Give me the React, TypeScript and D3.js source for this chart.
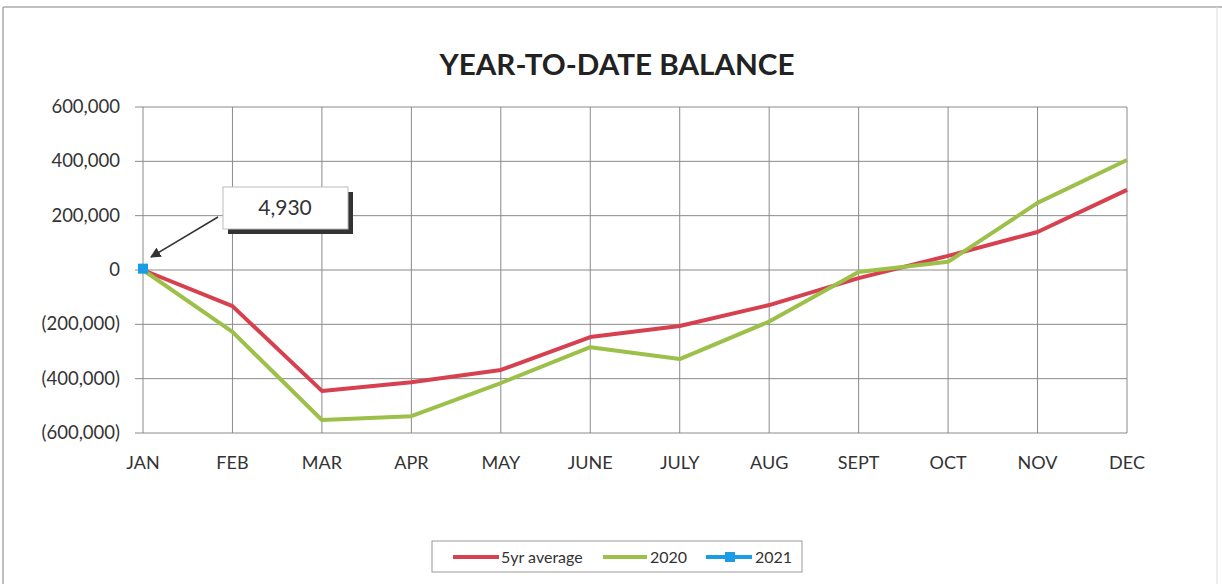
import React from "react";
import * as d3 from "d3";

const months = ["JAN","FEB","MAR","APR","MAY","JUNE","JULY","AUG","SEPT","OCT","NOV","DEC"];
const avg5yr = [0,-133000,-445000,-413000,-368000,-247000,-206000,-129000,-30000,52000,140000,295000];
const y2020 = [0,-228000,-552000,-538000,-416000,-284000,-328000,-190000,-7000,30000,247000,405000];
const y2021 = [4930];
const yTicks = [600000,400000,200000,0,-200000,-400000,-600000];

const W = 1222, H = 584;
const left = 143, right = 1127, top = 107, bottom = 433;

function fmt(v: number) {
  const s = d3.format(",")(Math.abs(v));
  return v < 0 ? `(${s})` : s;
}

export default function App() {
  const x = d3.scalePoint<string>().domain(months).range([left, right]);
  const y = d3.scaleLinear().domain([-600000, 600000]).range([bottom, top]);
  const line = d3.line<number>().x((_, i) => x(months[i])!).y(d => y(d));
  const font = "Lato, 'Open Sans', sans-serif";
  const px = x("JAN")!, py = y(y2021[0]);
  return (
    <svg width={W} height={H} style={{ position: "absolute", left: 0, top: 0, background: "#fff" }} fontFamily={font}>
      <rect x={0} y={0} width={W} height={H} fill="#fff" />
      <line x1={3} y1={7} x2={1222} y2={7} stroke="#aaa" strokeWidth={1.5} />
      <line x1={3} y1={7} x2={3} y2={584} stroke="#aaa" strokeWidth={1.5} />
      <line x1={1217} y1={7} x2={1217} y2={584} stroke="#ddd" strokeWidth={1} />
      <text x={617} y={75} textAnchor="middle" fontSize={29} fontWeight="bold" fill="#222" textLength={355} lengthAdjust="spacingAndGlyphs">YEAR-TO-DATE BALANCE</text>
      {yTicks.map(t => (
        <g key={t}>
          <line x1={left - 8} x2={right} y1={y(t)} y2={y(t)} stroke="#8a8a8a" strokeWidth={1} />
          <text x={120} y={y(t) + 6} textAnchor="end" fontSize={18.5} fill="#333">{fmt(t)}</text>
        </g>
      ))}
      {months.map(m => (
        <g key={m}>
          <line x1={x(m)!} x2={x(m)!} y1={top} y2={bottom} stroke="#8a8a8a" strokeWidth={1} />
          <text x={x(m)!} y={469} textAnchor="middle" fontSize={18} fill="#333">{m}</text>
        </g>
      ))}
      <path d={line(avg5yr)!} fill="none" stroke="#d6404f" strokeWidth={4} strokeLinejoin="round" />
      <path d={line(y2020)!} fill="none" stroke="#9cc04a" strokeWidth={4} strokeLinejoin="round" />
      <rect x={px - 5} y={py - 5} width={10} height={10} fill="#1a9de6" />
      {/* annotation */}
      <rect x={228} y={192} width={125} height={42} fill="#333" />
      <rect x={223} y={187} width={125} height={42} fill="#fff" stroke="#bbb" strokeWidth={1} />
      <text x={285} y={215} textAnchor="middle" fontSize={21} fill="#333">{d3.format(",")(y2021[0])}</text>
      <defs>
        <marker id="arr" viewBox="0 0 10 10" refX={9} refY={5} markerWidth={7} markerHeight={7} orient="auto">
          <path d="M0,0 L10,5 L0,10 z" fill="#333" />
        </marker>
      </defs>
      <line x1={218} y1={217} x2={151} y2={257} stroke="#333" strokeWidth={1.5} markerEnd="url(#arr)" />
      {/* legend */}
      <rect x={432} y={541} width={370} height={31} fill="#fff" stroke="#999" strokeWidth={1} />
      <line x1={453} x2={499} y1={557} y2={557} stroke="#d6404f" strokeWidth={4} />
      <text x={501} y={563} fontSize={16} fill="#333">5yr average</text>
      <line x1={603} x2={647} y1={557} y2={557} stroke="#9cc04a" strokeWidth={4} />
      <text x={650} y={563} fontSize={16} fill="#333">2020</text>
      <line x1={706} x2={752} y1={557} y2={557} stroke="#1a9de6" strokeWidth={4} />
      <rect x={725} y={552} width={10} height={10} fill="#1a9de6" />
      <text x={755} y={563} fontSize={16} fill="#333">2021</text>
    </svg>
  );
}
